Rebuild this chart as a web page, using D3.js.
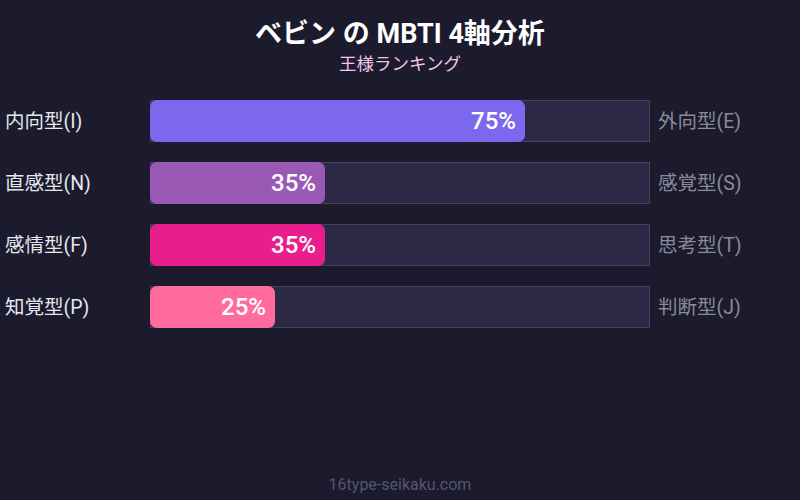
<!DOCTYPE html>
<html>
<head>
<meta charset="utf-8">
<script src="https://cdn.jsdelivr.net/npm/d3@7"></script>
<style>
  html, body { margin: 0; padding: 0; background: #1b1b2d; }
  text { font-family: Roboto, "Noto Sans CJK JP", sans-serif; }
</style>
</head>
<body>
<div id="chart"></div>
<script>
// Donnees du graphique
const leftLabels = ["内向型(I)", "直感型(N)", "感情型(F)", "知覚型(P)"];
const rightLabels = ["外向型(E)", "感覚型(S)", "思考型(T)", "判断型(J)"];
const values = [75, 35, 35, 25];
const colors = ["#7b68ee", "#9b59b6", "#e91e8c", "#ff6b9d"];

const width = 800, height = 500;
const margin = {top: 100, left: 150, right: 150};

const svg = d3.select("#chart")
    .append("svg")
    .attr("width", width)
    .attr("height", height);

svg.append("rect").attr("width", width).attr("height", height).attr("fill", "#1b1b2d");

// Titre
svg.append("text")
    .attr("x", width / 2).attr("y", 43)
    .attr("text-anchor", "middle")
    .attr("fill", "#ffffff")
    .attr("font-size", 27).attr("font-weight", "bold")
    .text("ベビン の MBTI 4軸分析");
svg.append("text")
    .attr("x", width / 2).attr("y", 70)
    .attr("text-anchor", "middle")
    .attr("fill", "#f3c6e8")
    .attr("font-size", 17.5)
    .text("王様ランキング");

// Echelles
const x = d3.scaleLinear().domain([0, 100]).range([margin.left, width - margin.right]);
const y = d3.scaleBand()
    .domain(leftLabels)
    .range([margin.top, margin.top + 4 * 62 - 20])
    .paddingInner(20 / 62)
    .paddingOuter(0);

const rows = svg.selectAll("g.row")
    .data(values)
    .join("g")
    .attr("class", "row");

// Fond des barres
rows.append("rect")
    .attr("x", x(0) + 0.5)
    .attr("y", (d, i) => y(leftLabels[i]) + 0.5)
    .attr("width", x(100) - x(0) - 1)
    .attr("height", y.bandwidth() - 1)
    .attr("fill", "#2b2946")
    .attr("stroke", "#43415f")
    .attr("stroke-width", 1);

// Barres
rows.append("rect")
    .attr("x", x(0))
    .attr("y", (d, i) => y(leftLabels[i]))
    .attr("width", d => x(d) - x(0))
    .attr("height", y.bandwidth())
    .attr("rx", 7)
    .attr("fill", (d, i) => colors[i]);

// Pourcentages
rows.append("text")
    .attr("x", d => x(d) - 9)
    .attr("y", (d, i) => y(leftLabels[i]) + y.bandwidth() / 2)
    .attr("dy", "0.35em")
    .attr("text-anchor", "end")
    .attr("fill", "#ffffff")
    .attr("font-size", 24).attr("font-weight", 500)
    .text(d => d + "%");

// Etiquettes gauche / droite
rows.append("text")
    .attr("x", 5)
    .attr("y", (d, i) => y(leftLabels[i]) + y.bandwidth() / 2)
    .attr("dy", "0.35em")
    .attr("fill", "#e6e6ee")
    .attr("font-size", 19.5)
    .text((d, i) => leftLabels[i]);
rows.append("text")
    .attr("x", x(100) + 8)
    .attr("y", (d, i) => y(leftLabels[i]) + y.bandwidth() / 2)
    .attr("dy", "0.35em")
    .attr("fill", "#8a8a9a")
    .attr("font-size", 19.5)
    .text((d, i) => rightLabels[i]);

// Pied de page
svg.append("text")
    .attr("x", width / 2).attr("y", 490)
    .attr("text-anchor", "middle")
    .attr("fill", "#55556e")
    .attr("font-family", "Inter, Roboto, sans-serif")
    .attr("font-size", 16)
    .text("16type-seikaku.com");
</script>
</body>
</html>
